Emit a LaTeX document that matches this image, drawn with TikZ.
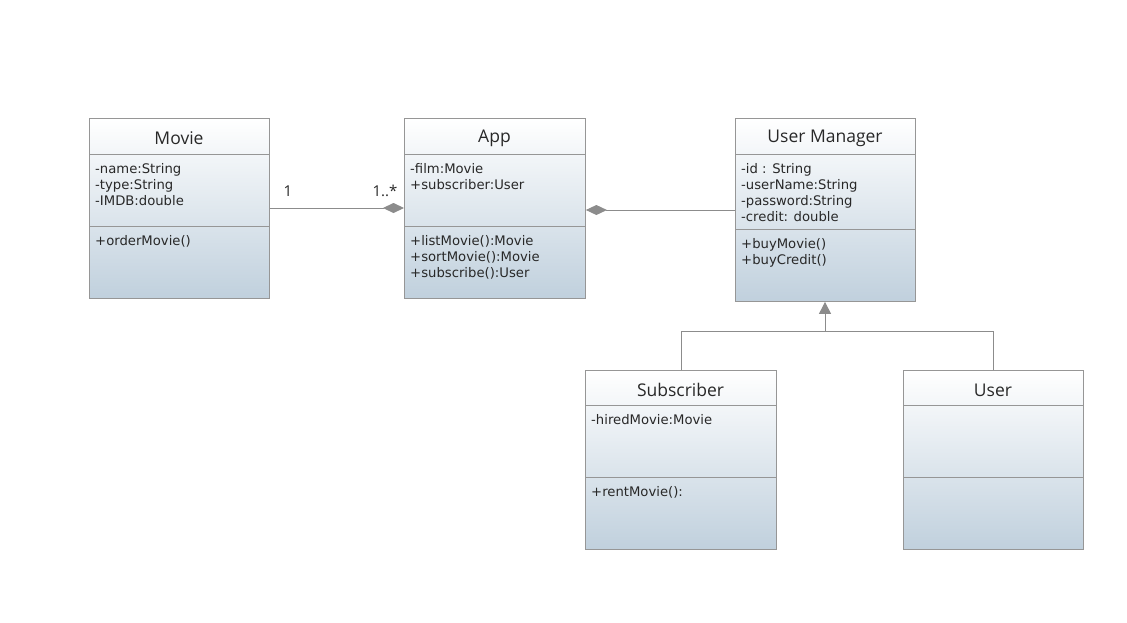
\documentclass[tikz,border=0pt]{standalone}
\usepackage{fontspec}
\setmainfont{DejaVu Sans}
\newfontfamily\titlefont{Open Sans}
\usetikzlibrary{arrows.meta}
\definecolor{boxline}{RGB}{150,150,150}
\definecolor{boxbottom}{RGB}{192,208,221}
\definecolor{boxtop}{RGB}{255,255,255}
\definecolor{wire}{RGB}{140,140,140}
\definecolor{txt}{RGB}{40,40,40}
\tikzset{
  classbox/.style={draw=boxline, line width=0.9pt, top color=boxtop, bottom color=boxbottom,
    rectangle, inner sep=0pt, anchor=north west},
  classname/.style={font=\titlefont\fontsize{17.5}{19}\selectfont, text=txt, anchor=center},
  members/.style={font=\fontsize{13.2}{16}\selectfont, text=txt, anchor=north west,
    align=left, inner sep=0pt},
  sep/.style={draw=boxline, line width=0.9pt},
  assoc/.style={draw=wire, line width=1pt},
  mult/.style={font=\titlefont\fontsize{15}{16}\selectfont, text=txt},
}
\begin{document}
\begin{tikzpicture}[x=1pt,y=-1pt]
\useasboundingbox (0,0) rectangle (1127,622);
\fill[white] (0,0) rectangle (1127,622);

% Movie
\node[classbox, minimum width=180pt, minimum height=180pt] (movie) at (89,118) {};
\node[classname] (movieT) at (179,138.5) {Movie};
\draw[sep] (89,154) -- (269,154);
\draw[sep] (89,226) -- (269,226);
\node[members] (movieA) at (95,163.5) {-name:String\\-type:String\\-IMDB:double};
\node[members] (movieO) at (95,235.5) {+orderMovie()};

% App
\node[classbox, minimum width=181pt, minimum height=180pt] (app) at (404,118) {};
\node[classname] (appT) at (494.5,138.5) {App};
\draw[sep] (404,154) -- (585,154);
\draw[sep] (404,226) -- (585,226);
\node[members] (appA) at (410,163.5) {-film:Movie\\+subscriber:User};
\node[members] (appO) at (410,235.5) {+listMovie():Movie\\+sortMovie():Movie\\+subscribe():User};

% User Manager
\node[classbox, minimum width=180pt, minimum height=183pt] (um) at (735,118) {};
\node[classname] (umT) at (825,138.5) {User Manager};
\draw[sep] (735,154) -- (915,154);
\draw[sep] (735,229) -- (915,229);
\node[members] (umA) at (741,163.5) {-id : String\\-userName:String\\-password:String\\-credit: double};
\node[members] (umO) at (741,238.5) {+buyMovie()\\+buyCredit()};

% Subscriber
\node[classbox, minimum width=191pt, minimum height=179pt] (sub) at (585,370) {};
\node[classname] (subT) at (680.5,390) {Subscriber};
\draw[sep] (585,405) -- (776,405);
\draw[sep] (585,477) -- (776,477);
\node[members] (subA) at (591,414.5) {-hiredMovie:Movie};
\node[members] (subO) at (591,486.5) {+rentMovie():};

% User
\node[classbox, minimum width=180pt, minimum height=179pt] (user) at (903,370) {};
\node[classname] (userT) at (993,390) {User};
\draw[sep] (903,405) -- (1083,405);
\draw[sep] (903,477) -- (1083,477);

% Movie -- App aggregation
\draw[assoc, -{Diamond[length=21pt,width=10pt,fill=wire]}] (movie.east |- 0,208) -- (app.west |- 0,208);
\node[mult] (m1) at (288,191) {1};
\node[mult] (m2) at (385,191) {1..*};

% User Manager -- App aggregation
\draw[assoc, -{Diamond[length=21pt,width=10pt,fill=wire]}] (um.west |- 0,210) -- (app.east |- 0,210);

% Generalization
\coordinate (gj) at (825,331);
\draw[assoc, -{Triangle[length=12pt,width=12pt,fill=wire]}] (gj) -- (um.south -| gj);
\draw[assoc] (sub.north -| 681,0) |- (gj);
\draw[assoc] (user.north -| 993,0) |- (gj);
\end{tikzpicture}
\end{document}
